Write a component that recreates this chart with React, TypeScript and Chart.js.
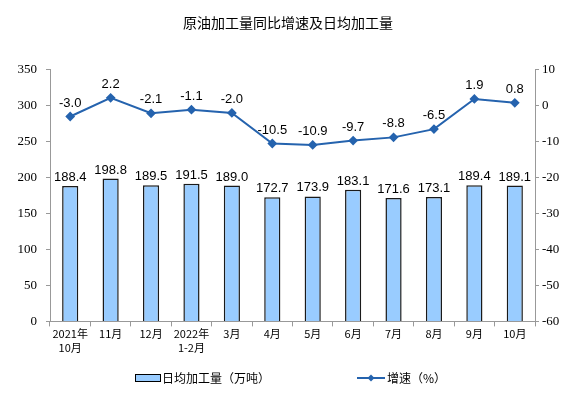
import React, { useEffect, useRef } from "react";
import { Chart, registerables } from "chart.js";
Chart.register(...registerables);

const categories: string[][] = [
  ["2021年", "10月"], ["11月"], ["12月"], ["2022年", "1-2月"], ["3月"], ["4月"],
  ["5月"], ["6月"], ["7月"], ["8月"], ["9月"], ["10月"],
];
const dailyOutput = [188.4, 198.8, 189.5, 191.5, 189.0, 172.7, 173.9, 183.1, 171.6, 173.1, 189.4, 189.1];
const growthRate = [-3.0, 2.2, -2.1, -1.1, -2.0, -10.5, -10.9, -9.7, -8.8, -6.5, 1.9, 0.8];
const titleText = "原油加工量同比增速及日均加工量";
const barLegend = "日均加工量（万吨）";
const lineLegend = "增速（%）";

const LINE_COLOR = "#2563AE";
const BAR_FILL = "#99CCFF";
const SERIF_FONT = "13px 'Liberation Serif', serif";

const labelPlugin = {
  id: "valueLabels",
  afterDraw(chart: any) {
    const ctx = chart.ctx;
    ctx.save();
    // axis tick labels (serif)
    ctx.font = SERIF_FONT;
    ctx.fillStyle = "#000";
    ctx.textBaseline = "middle";
    const yL = chart.scales.y;
    ctx.textAlign = "right";
    yL.ticks.forEach((t: any) => {
      ctx.fillText(String(t.value), yL.right - 13, yL.getPixelForValue(t.value));
    });
    const yR = chart.scales.y1;
    ctx.textAlign = "left";
    yR.ticks.forEach((t: any) => {
      ctx.fillText(String(t.value), yR.left + 7, yR.getPixelForValue(t.value));
    });

    ctx.font = "13px 'Liberation Sans', Arial, sans-serif";
    ctx.textAlign = "center";
    ctx.textBaseline = "bottom";
    const barMeta = chart.getDatasetMeta(0);
    barMeta.data.forEach((el: any, i: number) => {
      ctx.fillText(dailyOutput[i].toFixed(1), el.x, el.y - 2);
    });
    const lineMeta = chart.getDatasetMeta(1);
    lineMeta.data.forEach((el: any, i: number) => {
      ctx.fillText(growthRate[i].toFixed(1), el.x, el.y - 7);
    });
    // legend
    ctx.font = "12px 'Noto Sans CJK SC', sans-serif";
    ctx.textBaseline = "middle";
    ctx.textAlign = "left";
    const ly = 378;
    ctx.fillStyle = BAR_FILL;
    ctx.fillRect(135, ly - 3.5, 25, 7);
    ctx.strokeStyle = "#000";
    ctx.lineWidth = 1;
    ctx.strokeRect(135.5, ly - 3.5, 25, 7);
    ctx.fillStyle = "#000";
    ctx.fillText(barLegend, 162, ly);
    ctx.strokeStyle = LINE_COLOR;
    ctx.lineWidth = 2;
    ctx.beginPath();
    ctx.moveTo(357, ly);
    ctx.lineTo(385, ly);
    ctx.stroke();
    ctx.fillStyle = LINE_COLOR;
    ctx.beginPath();
    ctx.moveTo(371, ly - 3.5);
    ctx.lineTo(374.5, ly);
    ctx.lineTo(371, ly + 3.5);
    ctx.lineTo(367.5, ly);
    ctx.closePath();
    ctx.fill();
    ctx.fillStyle = "#000";
    ctx.fillText(lineLegend, 387, ly);
    ctx.restore();
  },
};

export default function App() {
  const ref = useRef<HTMLCanvasElement>(null);
  useEffect(() => {
    document.body.style.margin = "0";
    const chart = new Chart(ref.current!, {
      type: "bar",
      data: {
        labels: categories,
        datasets: [
          {
            type: "bar",
            label: barLegend,
            data: dailyOutput,
            backgroundColor: BAR_FILL,
            borderColor: "#1a1a1a",
            borderWidth: 1.5,
            yAxisID: "y",
            barPercentage: 0.8,
            categoryPercentage: 0.5,
            order: 2,
          },
          {
            type: "line",
            label: lineLegend,
            data: growthRate,
            borderColor: LINE_COLOR,
            backgroundColor: LINE_COLOR,
            borderWidth: 2,
            pointStyle: "rectRot",
            pointRadius: 3.5,
            pointHoverRadius: 3.5,
            yAxisID: "y1",
            tension: 0,
            order: 1,
          },
        ],
      },
      options: {
        animation: false,
        responsive: false,
        layout: { padding: { top: 0, bottom: 42, left: 0, right: 0 } },
        plugins: {
          legend: { display: false },
          tooltip: { enabled: false },
          title: {
            display: true,
            text: titleText,
            color: "#000",
            font: { family: "'Noto Sans CJK SC', sans-serif", size: 14, weight: "normal" },
            padding: { top: 14, bottom: 39 },
          },
        },
        scales: {
          x: {
            offset: true,
            grid: { display: true, drawOnChartArea: false, offset: true, tickLength: 5, color: "#999" },
            border: { color: "#999" },
            ticks: {
              color: "#000",
              font: { family: "'Noto Sans CJK SC', sans-serif", size: 11, lineHeight: 1.3 },
              maxRotation: 0,
              autoSkip: false,
              padding: 0,
            },
          },
          y: {
            position: "left",
            min: 0,
            max: 350,
            afterFit: (s: any) => { s.width = 50; },
            grid: { drawOnChartArea: false, tickLength: 4, color: "#999" },
            border: { color: "#999" },
            ticks: {
              stepSize: 50,
              color: "rgba(0,0,0,0)",
              padding: 6,
            },
          },
          y1: {
            position: "right",
            min: -60,
            max: 10,
            afterFit: (s: any) => { s.width = 41; },
            grid: { drawOnChartArea: false, tickLength: 4, color: "#999" },
            border: { color: "#999" },
            ticks: {
              stepSize: 10,
              color: "rgba(0,0,0,0)",
              padding: 6,
            },
          },
        },
      },
      plugins: [labelPlugin],
    });
    return () => chart.destroy();
  }, []);
  return <canvas ref={ref} width={576} height={397} style={{ display: "block" }} />;
}
